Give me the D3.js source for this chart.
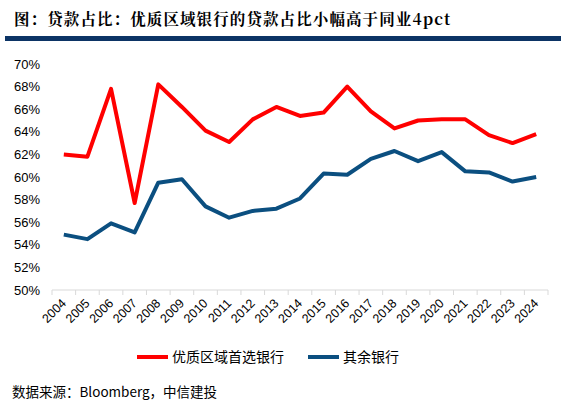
<!DOCTYPE html>
<html>
<head>
<meta charset="utf-8">
<script src="https://cdn.jsdelivr.net/npm/d3@7"></script>
<style>
  html, body { margin: 0; padding: 0; background: #fff; }
  svg { display: block; }
</style>
</head>
<body>
<div id="chart"></div>
<script>
// values
const years = ['2004','2005','2006','2007','2008','2009','2010','2011','2012','2013','2014',
  '2015','2016','2017','2018','2019','2020','2021','2022','2023','2024'];
const premiumBanks = [62.0, 61.8, 67.8, 57.7, 68.2, 66.2, 64.1, 63.1, 65.1, 66.2, 65.4,
  65.7, 68.0, 65.8, 64.3, 65.0, 65.1, 65.1, 63.7, 63.0, 63.8];
const otherBanks = [54.9, 54.5, 55.9, 55.1, 59.5, 59.8, 57.4, 56.4, 57.0, 57.2, 58.1,
  60.3, 60.2, 61.6, 62.3, 61.4, 62.2, 60.5, 60.4, 59.6, 60.0];
const yTicks = [50, 52, 54, 56, 58, 60, 62, 64, 66, 68, 70];
const seriesNames = ['优质区域首选银行', '其余银行'];
const titleText = '图：贷款占比：优质区域银行的贷款占比小幅高于同业4pct';
const sourceText = '数据来源：Bloomberg，中信建投';

const width = 561, height = 409;
const colors = ['#ff0000', '#0b4f80'];
const margin = { top: 64, right: 13, bottom: 120, left: 52 };

const svg = d3.select('#chart').append('svg')
  .attr('width', width).attr('height', height);

// title + navy rule
svg.append('text')
  .attr('x', 14).attr('y', 25)
  .attr('font-family', '"Noto Serif CJK SC", "Noto Sans CJK SC", serif')
  .attr('font-size', 15.5).attr('font-weight', 700)
  .attr('letter-spacing', 1.1)
  .attr('fill', '#000')
  .text(titleText);
svg.append('rect')
  .attr('x', 5).attr('y', 36).attr('width', width - 5).attr('height', 5)
  .attr('fill', '#0c3465');

const x = d3.scaleBand().domain(years).range([margin.left, width - margin.right]);
const y = d3.scaleLinear().domain([50, 70]).range([290, 64]);

// y labels (no axis line)
svg.append('g').selectAll('text').data(yTicks).join('text')
  .attr('x', 40).attr('y', (d) => y(d))
  .attr('dy', '0.36em')
  .attr('text-anchor', 'end')
  .attr('font-family', '"Liberation Sans", Arial, sans-serif')
  .attr('font-size', 13)
  .attr('fill', '#000')
  .text((d) => d + '%');

// x axis
const xAxis = svg.append('g').attr('transform', `translate(0,${y(50)})`);
xAxis.append('line')
  .attr('x1', x.range()[0]).attr('x2', x.range()[1])
  .attr('stroke', '#d9d9d9').attr('stroke-width', 1);
xAxis.selectAll('line.tick').data(years.concat(['end'])).join('line')
  .attr('class', 'tick')
  .attr('x1', (d, i) => x.range()[0] + i * x.step())
  .attr('x2', (d, i) => x.range()[0] + i * x.step())
  .attr('y1', 0).attr('y2', 5)
  .attr('stroke', '#d9d9d9');
xAxis.selectAll('text').data(years).join('text')
  .attr('transform', (d) => `translate(${x(d) + x.bandwidth() / 2 + 3},${14}) rotate(-45)`)
  .attr('text-anchor', 'end')
  .attr('font-family', '"Liberation Sans", Arial, sans-serif')
  .attr('font-size', 12.5)
  .attr('fill', '#000')
  .text((d) => d);

// lines
const line = d3.line()
  .x((d, i) => x(years[i]) + x.bandwidth() / 2)
  .y((d) => y(d));
[premiumBanks, otherBanks].forEach((series, i) => {
  svg.append('path')
    .datum(series)
    .attr('d', line)
    .attr('fill', 'none')
    .attr('stroke', colors[i])
    .attr('stroke-width', 4)
    .attr('stroke-linejoin', 'round');
});

// legend
const legend = [
  { name: seriesNames[0], color: colors[0], x: 137 },
  { name: seriesNames[1], color: colors[1], x: 308 },
];
const lg = svg.append('g');
legend.forEach((item) => {
  lg.append('line')
    .attr('x1', item.x).attr('x2', item.x + 31)
    .attr('y1', 357).attr('y2', 357)
    .attr('stroke', item.color).attr('stroke-width', 4);
  lg.append('text')
    .attr('x', item.x + 35).attr('y', 357)
    .attr('dy', '0.36em')
    .attr('font-family', '"Noto Sans CJK SC", sans-serif')
    .attr('font-size', 14)
    .attr('fill', '#000')
    .text(item.name);
});

// source note
svg.append('text')
  .attr('x', 12).attr('y', 392)
  .attr('dy', '0.36em')
  .attr('font-family', '"Noto Sans CJK SC", sans-serif')
  .attr('font-size', 13.5)
  .attr('fill', '#000')
  .text(sourceText);
</script>
</body>
</html>
